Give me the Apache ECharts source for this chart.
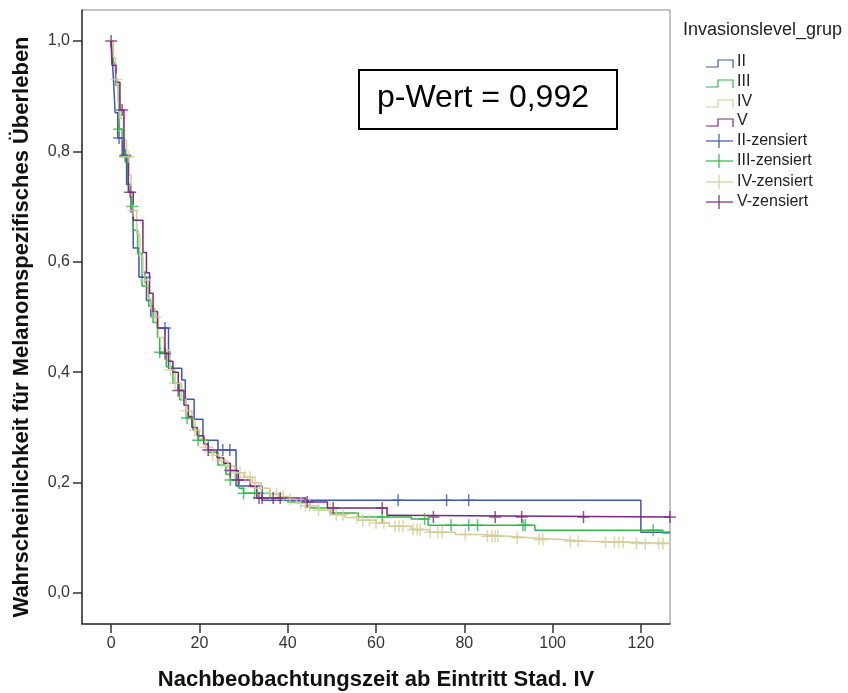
<!DOCTYPE html>
<html>
<head>
<meta charset="utf-8">
<script src="https://cdn.jsdelivr.net/npm/echarts@6/dist/echarts.min.js"></script>
<style>
  html, body { margin: 0; padding: 0; background: #fff; }
  #chart { width: 848px; height: 693px; }
</style>
</head>
<body>
<div id="chart"></div>
<script>
// Kaplan-Meier steps per group (time in months, survival)
var timeII  = [0, 0.3, 0.6, 0.9, 1.5, 2.5, 3.5, 4.5, 5, 6.3, 8, 9, 10.6, 13, 16, 16.8, 18.8, 20.8, 24.2, 28.3, 34.2, 120, 126.6];
var survII  = [1.0, 0.96, 0.92, 0.87, 0.824, 0.793, 0.74, 0.69, 0.625, 0.572, 0.53, 0.50, 0.48, 0.407, 0.386, 0.351, 0.315, 0.277, 0.259, 0.194, 0.168, 0.11, 0.11];
var censII  = [1.8, 3.2, 7.7, 12.2, 25.3, 26.9, 65, 76, 81];

var timeIII = [0, 0.5, 1, 1.8, 2.5, 3, 3.8, 4.5, 5, 6, 7, 8.5, 9.5, 10.5, 11, 12.5, 14, 15.5, 17, 18.5, 19.7, 22, 24.2, 26, 27, 29, 30, 36, 40, 45, 49.6, 56, 68, 71.8, 96, 125, 126.6];
var survIII = [1.0, 0.96, 0.92, 0.84, 0.82, 0.79, 0.74, 0.70, 0.657, 0.615, 0.556, 0.52, 0.49, 0.463, 0.436, 0.41, 0.38, 0.35, 0.317, 0.295, 0.277, 0.255, 0.232, 0.215, 0.205, 0.19, 0.181, 0.172, 0.165, 0.154, 0.145, 0.138, 0.134, 0.123, 0.114, 0.109, 0.109];
var censIII = [1.8, 3.2, 4.8, 11, 17.2, 19.7, 27, 30, 32.5, 61.4, 71, 77, 81, 83, 93.3, 93.8, 122.8];

var timeIV  = [0, 0.5, 1, 1.5, 2, 2.8, 3.5, 4, 4.5, 5, 5.8, 6.5, 7.2, 7.7, 8.3, 9, 10, 10.7, 12, 13.4, 14.5, 16, 17, 18.3, 19, 20, 21.3, 23, 24.5, 26, 28, 30, 32, 34, 36, 38, 40, 42, 44, 47, 50, 53, 56, 60, 63, 68, 72, 78, 84, 90, 95, 102, 108, 118, 126.6];
var survIV  = [1.0, 0.97, 0.93, 0.89, 0.86, 0.82, 0.79, 0.757, 0.72, 0.693, 0.65, 0.61, 0.58, 0.567, 0.534, 0.515, 0.50, 0.463, 0.44, 0.404, 0.38, 0.35, 0.33, 0.313, 0.295, 0.28, 0.264, 0.25, 0.24, 0.23, 0.218, 0.21, 0.20, 0.19, 0.18, 0.175, 0.17, 0.163, 0.158, 0.15, 0.142, 0.137, 0.132, 0.127, 0.121, 0.115, 0.11, 0.106, 0.103, 0.10, 0.097, 0.094, 0.092, 0.09, 0.09];
var censIV  = [1.2, 3.9, 5, 7.7, 10, 13.4, 14.5, 17, 19, 21.3, 23, 25, 26.5, 28, 29.2, 30.3, 31.5, 32.6, 34, 36, 37.5, 39, 40.5, 43, 44, 45, 47, 49.6, 51, 52.5, 55.7, 57, 58.5, 60, 61.8, 64.3, 65.2, 66.1, 68.4, 69.3, 70, 72.3, 74, 75, 80.2, 85.2, 86.3, 87, 87.6, 92, 97, 97.8, 104, 105.8, 112, 114, 115, 116, 119, 121, 124, 125];

var timeV   = [0, 0.2, 1.1, 2, 2.9, 3.9, 5, 7.2, 8, 8.7, 9.5, 10.5, 12.2, 13, 14, 15.2, 16.5, 17.5, 18.3, 19.5, 21, 22, 24, 25.5, 27, 28.8, 31.5, 33, 44, 49, 62.5, 63.2, 126.6];
var survV   = [1.0, 0.956, 0.925, 0.875, 0.793, 0.726, 0.675, 0.617, 0.58, 0.543, 0.51, 0.48, 0.434, 0.42, 0.40, 0.367, 0.34, 0.32, 0.30, 0.285, 0.27, 0.259, 0.245, 0.235, 0.222, 0.205, 0.193, 0.172, 0.165, 0.154, 0.141, 0.138, 0.138];
var censV   = [0, 2.5, 4.3, 12.2, 15.2, 22, 27, 28.8, 33.5, 34.2, 36.7, 38.3, 44.4, 50.3, 61.4, 73, 87, 93, 107, 126.6];

var groupNames = ['II', 'III', 'IV', 'V'];
var groupColors = ['#3E58AC', '#2EB848', '#D3CE97', '#7C287D'];
var xTicks = [0, 20, 40, 60, 80, 100, 120];
var yTicks = [0, 0.2, 0.4, 0.6, 0.8, 1.0];

var groups = [
  [timeII, survII, censII],
  [timeIII, survIII, censIII],
  [timeIV, survIV, censIV],
  [timeV, survV, censV]
];

function survAt(times, surv, t) {
  var s = surv[0];
  for (var i = 0; i < times.length; i++) {
    if (times[i] <= t) s = surv[i];
  }
  return s;
}

var FONT = '"Liberation Sans", Arial, sans-serif';
var crossPath = 'path://M5,0 L5,10 M0,5 L10,5';
var series = [];
groups.forEach(function (g, k) {
  series.push({
    name: groupNames[k],
    type: 'line',
    step: 'end',
    showSymbol: false,
    silent: true,
    lineStyle: { color: groupColors[k], width: 1.5 },
    data: g[0].map(function (t, i) { return [t, g[1][i]]; }),
    z: 2 + k
  });
});
groups.forEach(function (g, k) {
  series.push({
    name: groupNames[k] + '-zensiert',
    type: 'scatter',
    symbol: crossPath,
    symbolSize: 12,
    silent: true,
    itemStyle: { color: 'rgba(0,0,0,0)', borderColor: groupColors[k], borderWidth: 1.5 },
    data: g[2].map(function (t) { return [t, survAt(g[0], g[1], t)]; }),
    z: 6 + k
  });
});

// legend drawn by hand (SPSS style)
var legendItems = [{ type: 'text', left: 683, top: 21, style: { text: 'Invasionslevel_grup', font: '18px ' + FONT, fill: '#222' } }];
var rowY = [62, 82, 102, 121, 141, 161, 182, 202];
groupNames.forEach(function (n, k) {
  var y = rowY[k];
  legendItems.push({ type: 'polyline', shape: { points: [[706, y + 5], [718, y + 5], [718, y - 2], [733, y - 2], [733, y + 6]] }, style: { stroke: groupColors[k], lineWidth: 1.2, fill: null } });
  legendItems.push({ type: 'text', x: 737, y: y - 8, style: { text: n, font: '16px ' + FONT, fill: '#222' } });
});
groupNames.forEach(function (n, k) {
  var y = rowY[k + 4];
  legendItems.push({ type: 'line', shape: { x1: 706, y1: y, x2: 733, y2: y }, style: { stroke: groupColors[k], lineWidth: 1.2 } });
  legendItems.push({ type: 'line', shape: { x1: 719, y1: y - 7, x2: 719, y2: y + 7 }, style: { stroke: groupColors[k], lineWidth: 1.2 } });
  legendItems.push({ type: 'text', x: 737, y: y - 8, style: { text: n + '-zensiert', font: '16px ' + FONT, fill: '#222' } });
});

var chart = echarts.init(document.getElementById('chart'), null, { renderer: 'canvas' });
chart.setOption({
  animation: false,
  backgroundColor: '#fff',
  grid: { left: 82, right: 178, top: 10, bottom: 69, show: true, borderColor: '#888', borderWidth: 1, outerBoundsMode: 'none', containLabel: false },
  xAxis: {
    type: 'value', min: -6.6, max: 126.6,
    name: 'Nachbeobachtungszeit ab Eintritt Stad. IV',
    nameLocation: 'middle', nameGap: 45,
    nameTextStyle: { fontSize: 22, fontWeight: 'bold', color: '#111', fontFamily: FONT },
    axisLine: { show: true, onZero: false, lineStyle: { color: '#333', width: 1.5 } },
    axisTick: { show: true, length: 9, customValues: xTicks, lineStyle: { color: '#333', width: 1.5 } },
    axisLabel: { customValues: xTicks, fontSize: 16, color: '#333', margin: 12, fontFamily: FONT },
    splitLine: { show: false }
  },
  yAxis: {
    type: 'value', min: -0.056, max: 1.056,
    name: 'Wahrscheinlichkeit für Melanomspezifisches Überleben',
    nameLocation: 'middle', nameGap: 49,
    nameTextStyle: { fontSize: 22, fontWeight: 'bold', color: '#111', fontFamily: FONT, padding: [0, 20, 0, 0] },
    axisLine: { show: true, onZero: false, lineStyle: { color: '#333', width: 1.5 } },
    axisTick: { show: true, length: 9, customValues: yTicks, lineStyle: { color: '#333', width: 1.5 } },
    axisLabel: {
      customValues: yTicks, fontSize: 16, color: '#333', margin: 12,
      fontFamily: FONT,
      formatter: function (v) { return v.toFixed(1).replace('.', ','); }
    },
    splitLine: { show: false }
  },
  series: series,
  graphic: legendItems.concat([
    { type: 'rect', shape: { x: 359, y: 70, width: 258, height: 59 }, style: { fill: '#fff', stroke: '#000', lineWidth: 2 }, z: 100 },
    { type: 'text', x: 483, y: 98, style: { text: 'p-Wert = 0,992', font: '32px ' + FONT, fill: '#000', align: 'center', verticalAlign: 'middle' }, z: 101 }
  ])
});
</script>
</body>
</html>
